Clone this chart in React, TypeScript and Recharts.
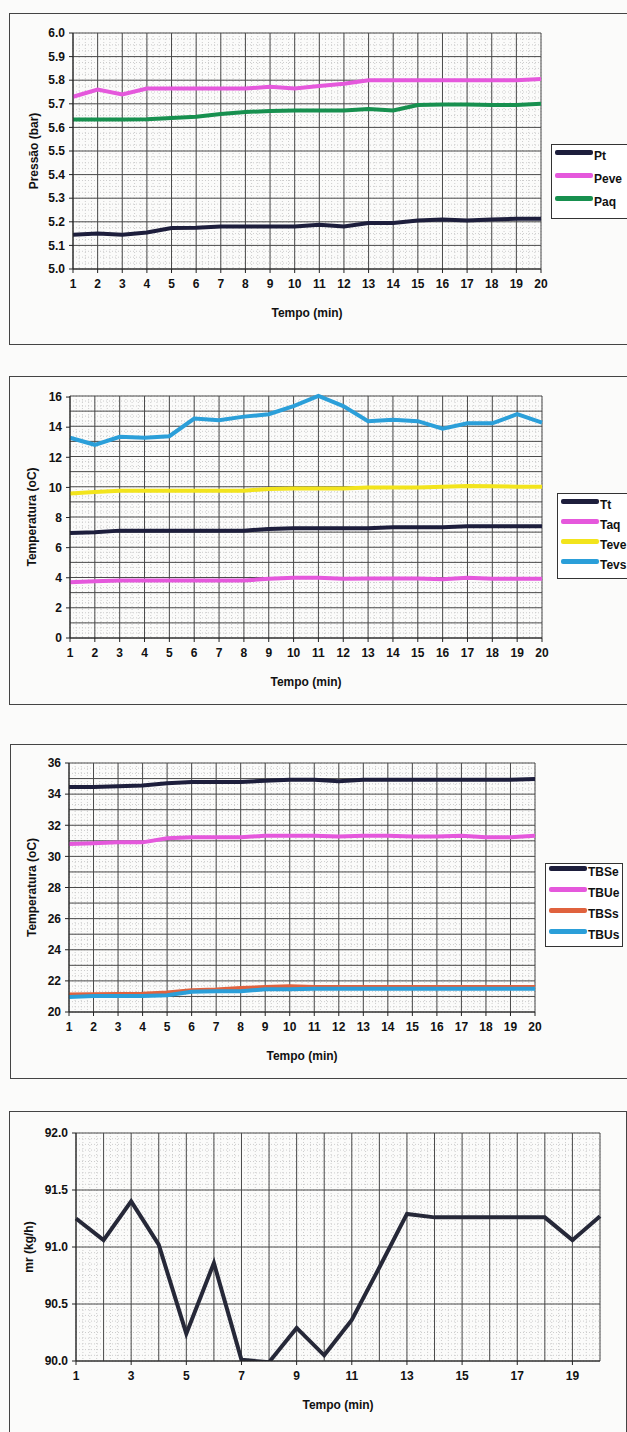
import React from "react"
import { LineChart, Line, XAxis, YAxis, CartesianGrid } from "recharts"

const minutes = [1, 2, 3, 4, 5, 6, 7, 8, 9, 10, 11, 12, 13, 14, 15, 16, 17, 18, 19, 20]

// chart 1 - pressures (bar)
const pt = [5.145, 5.15, 5.145, 5.155, 5.174, 5.175, 5.18, 5.18, 5.18, 5.18, 5.188, 5.18, 5.195, 5.195, 5.205, 5.21, 5.205, 5.21, 5.213, 5.213]
const peve = [5.73, 5.76, 5.74, 5.765, 5.765, 5.765, 5.765, 5.765, 5.772, 5.765, 5.775, 5.785, 5.8, 5.8, 5.8, 5.8, 5.8, 5.8, 5.8, 5.805]
const paq = [5.633, 5.633, 5.633, 5.635, 5.64, 5.645, 5.657, 5.665, 5.67, 5.672, 5.672, 5.672, 5.678, 5.672, 5.695, 5.697, 5.697, 5.695, 5.695, 5.7]
const pressureTicks = [5.0, 5.1, 5.2, 5.3, 5.4, 5.5, 5.6, 5.7, 5.8, 5.9, 6.0]

// chart 2 - refrigerant temperatures (oC)
const tt = [6.98, 7.02, 7.13, 7.13, 7.13, 7.13, 7.13, 7.13, 7.24, 7.28, 7.28, 7.28, 7.28, 7.35, 7.35, 7.35, 7.42, 7.42, 7.42, 7.42]
const taq = [3.71, 3.77, 3.82, 3.82, 3.82, 3.82, 3.82, 3.82, 3.93, 4.0, 4.0, 3.93, 3.95, 3.95, 3.95, 3.9, 4.0, 3.93, 3.93, 3.93]
const teve = [9.6, 9.7, 9.78, 9.78, 9.78, 9.78, 9.78, 9.78, 9.9, 9.93, 9.93, 9.93, 10.0, 10.0, 10.0, 10.04, 10.1, 10.08, 10.05, 10.05]
const tevs = [13.3, 12.83, 13.36, 13.3, 13.4, 14.57, 14.46, 14.7, 14.86, 15.4, 16.07, 15.4, 14.4, 14.5, 14.4, 13.9, 14.26, 14.26, 14.86, 14.3]
const tempTicks = [0, 2, 4, 6, 8, 10, 12, 14, 16]

// chart 3 - air temperatures (oC)
const tbse = [34.45, 34.45, 34.5, 34.56, 34.7, 34.78, 34.78, 34.78, 34.86, 34.93, 34.93, 34.82, 34.93, 34.93, 34.93, 34.93, 34.93, 34.93, 34.93, 34.97]
const tbue = [30.8, 30.85, 30.9, 30.9, 31.17, 31.23, 31.23, 31.23, 31.32, 31.32, 31.32, 31.27, 31.32, 31.32, 31.27, 31.27, 31.32, 31.23, 31.23, 31.32]
const tbss = [21.12, 21.14, 21.16, 21.18, 21.25, 21.4, 21.45, 21.55, 21.6, 21.65, 21.6, 21.6, 21.6, 21.6, 21.6, 21.6, 21.6, 21.6, 21.6, 21.6]
const tbus = [20.97, 21.03, 21.03, 21.03, 21.07, 21.3, 21.33, 21.33, 21.46, 21.46, 21.5, 21.5, 21.5, 21.5, 21.5, 21.5, 21.5, 21.5, 21.5, 21.5]
const airTicks = [20, 22, 24, 26, 28, 30, 32, 34, 36]

// chart 4 - refrigerant mass flow (kg/h)
const mr = [91.25, 91.06, 91.4, 91.02, 90.24, 90.86, 90.01, 89.99, 90.29, 90.05, 90.36, 90.82, 91.29, 91.26, 91.26, 91.26, 91.26, 91.26, 91.06, 91.27]
const mrTicks = [90.0, 90.5, 91.0, 91.5, 92.0]
const mrXTicks = [1, 3, 5, 7, 9, 11, 13, 15, 17, 19]

const navy = "#1d1e3c"
const pink = "#e558dc"
const green = "#17904f"
const yellow = "#f2e41c"
const blue = "#2b9fd9"
const orange = "#e0623e"

const font = "'Liberation Sans', Arial, sans-serif"
const tickStyle = { fontFamily: font, fontSize: 12, fontWeight: 700, fill: "#111" }
const labelStyle = { fontFamily: font, fontSize: 12, fontWeight: 700, fill: "#111", textAnchor: "middle" as const }

const steps = (n: number) => Array.from({ length: n + 1 }, (_, i) => i / n)

const rowsFor = (series: Record<string, number[]>) =>
  minutes.map((t, i) => {
    const row: Record<string, number> = { t }
    Object.keys(series).forEach((k) => (row[k] = series[k][i]))
    return row
  })

interface Grid {
  majorRows: number
  minorRows: number
  majorCols: number
  minorCols: number
}

// dotted fine grid under the solid major grid, like the printed original
const Grids = (g: Grid) => [
  <CartesianGrid
    key="minor"
    stroke="#cdcdcd"
    strokeDasharray="1 2"
    horizontalCoordinatesGenerator={({ offset }: any) => steps(g.minorRows).map((f) => offset.top + offset.height * f)}
    verticalCoordinatesGenerator={({ offset }: any) => steps(g.minorCols).map((f) => offset.left + offset.width * f)}
  />,
  <CartesianGrid
    key="major"
    stroke="#4a4a4a"
    horizontalCoordinatesGenerator={({ offset }: any) => steps(g.majorRows).map((f) => offset.top + offset.height * f)}
    verticalCoordinatesGenerator={({ offset }: any) => steps(g.majorCols).map((f) => offset.left + offset.width * f)}
  />,
]

const LegendBox = ({ left, top, width, height, rowTop, rowGap, lineW, items }: any) => (
  <div
    style={{
      position: "absolute",
      left,
      top,
      width,
      height,
      border: "1px solid #333",
      background: "#fff",
      fontFamily: font,
      fontSize: 12,
      fontWeight: 700,
    }}
  >
    {items.map((it: any, i: number) => (
      <div key={it.name} style={{ position: "absolute", left: 3, top: rowTop + i * rowGap, display: "flex", alignItems: "flex-start" }}>
        <div style={{ width: lineW, height: 5, marginTop: 4, background: it.color, borderRadius: 2 }} />
        <span style={{ marginLeft: 1, marginTop: 3, color: "#111", lineHeight: "14px" }}>{it.name}</span>
      </div>
    ))}
  </div>
)

const frame = (left: number, top: number, width: number, height: number): React.CSSProperties => ({
  position: "absolute",
  left,
  top,
  width,
  height,
  border: "1px solid #444",
})

export default function App() {
  const d1 = rowsFor({ Pt: pt, Peve: peve, Paq: paq })
  const d2 = rowsFor({ Tt: tt, Taq: taq, Teve: teve, Tevs: tevs })
  const d3 = rowsFor({ TBSe: tbse, TBUe: tbue, TBSs: tbss, TBUs: tbus })
  const d4 = rowsFor({ mr })

  const xAxisCommon = {
    dataKey: "t",
    type: "number" as const,
    domain: [1, 20],
    stroke: "#222",
    tick: tickStyle,
    tickSize: 4,
    tickMargin: 6,
    height: 50,
  }

  return (
    <div style={{ position: "absolute", left: 0, top: 0, width: 627, height: 1432, overflow: "hidden", background: "#fbfbfa" }}>
      {/* chart 1 */}
      <div style={frame(9, 13, 640, 330)} />
      <div style={{ position: "absolute", left: 0, top: 13 }}>
        <LineChart width={627} height={330} data={d1} margin={{ top: 20, right: 86, bottom: 24, left: 20 }}>
          {Grids({ majorRows: 10, minorRows: 40, majorCols: 19, minorCols: 76 })}
          <XAxis {...xAxisCommon} ticks={minutes} label={{ value: "Tempo (min)", position: "insideBottom", offset: 2, style: labelStyle }} />
          <YAxis
            type="number"
            domain={[5, 6]}
            ticks={pressureTicks}
            tickFormatter={(v: number) => v.toFixed(1)}
            width={53}
            stroke="#222"
            tick={tickStyle}
            tickSize={4}
            tickMargin={4}
            label={{ value: "Pressão (bar)", angle: -90, position: "insideLeft", offset: 14, style: labelStyle }}
          />
          <Line dataKey="Pt" stroke={navy} strokeWidth={4} dot={false} isAnimationActive={false} />
          <Line dataKey="Peve" stroke={pink} strokeWidth={4} dot={false} isAnimationActive={false} />
          <Line dataKey="Paq" stroke={green} strokeWidth={4} dot={false} isAnimationActive={false} />
        </LineChart>
      </div>
      <LegendBox
        left={551}
        top={144}
        width={90}
        height={73}
        rowTop={1}
        rowGap={23}
        lineW={38}
        items={[
          { name: "Pt", color: navy },
          { name: "Peve", color: pink },
          { name: "Paq", color: green },
        ]}
      />

      {/* chart 2 */}
      <div style={frame(9, 376, 640, 327)} />
      <div style={{ position: "absolute", left: 0, top: 376 }}>
        <LineChart width={627} height={327} data={d2} margin={{ top: 20, right: 85, bottom: 15, left: 20 }}>
          {Grids({ majorRows: 16, minorRows: 48, majorCols: 19, minorCols: 76 })}
          <XAxis {...xAxisCommon} ticks={minutes} label={{ value: "Tempo (min)", position: "insideBottom", offset: 2, style: labelStyle }} />
          <YAxis
            type="number"
            domain={[0, 16]}
            ticks={tempTicks}
            width={50}
            stroke="#222"
            tick={tickStyle}
            tickSize={4}
            tickMargin={4}
            label={{ value: "Temperatura (oC)", angle: -90, position: "insideLeft", offset: 12, style: labelStyle }}
          />
          <Line dataKey="Tt" stroke={navy} strokeWidth={4} dot={false} isAnimationActive={false} />
          <Line dataKey="Taq" stroke={pink} strokeWidth={4} dot={false} isAnimationActive={false} />
          <Line dataKey="Teve" stroke={yellow} strokeWidth={4} dot={false} isAnimationActive={false} />
          <Line dataKey="Tevs" stroke={blue} strokeWidth={4} dot={false} isAnimationActive={false} />
        </LineChart>
      </div>
      <LegendBox
        left={557}
        top={493}
        width={84}
        height={84}
        rowTop={1}
        rowGap={20}
        lineW={38}
        items={[
          { name: "Tt", color: navy },
          { name: "Taq", color: pink },
          { name: "Teve", color: yellow },
          { name: "Tevs", color: blue },
        ]}
      />

      {/* chart 3 */}
      <div style={frame(10, 744, 640, 333)} />
      <div style={{ position: "absolute", left: 0, top: 744 }}>
        <LineChart width={627} height={333} data={d3} margin={{ top: 19, right: 92, bottom: 15, left: 20 }}>
          {Grids({ majorRows: 16, minorRows: 48, majorCols: 19, minorCols: 76 })}
          <XAxis {...xAxisCommon} ticks={minutes} label={{ value: "Tempo (min)", position: "insideBottom", offset: 2, style: labelStyle }} />
          <YAxis
            type="number"
            domain={[20, 36]}
            ticks={airTicks}
            width={49}
            stroke="#222"
            tick={tickStyle}
            tickSize={4}
            tickMargin={4}
            label={{ value: "Temperatura (oC)", angle: -90, position: "insideLeft", offset: 12, style: labelStyle }}
          />
          <Line dataKey="TBSe" stroke={navy} strokeWidth={4} dot={false} isAnimationActive={false} />
          <Line dataKey="TBUe" stroke={pink} strokeWidth={4} dot={false} isAnimationActive={false} />
          <Line dataKey="TBSs" stroke={orange} strokeWidth={4} dot={false} isAnimationActive={false} />
          <Line dataKey="TBUs" stroke={blue} strokeWidth={4} dot={false} isAnimationActive={false} />
        </LineChart>
      </div>
      <LegendBox
        left={545}
        top={863}
        width={76}
        height={82}
        rowTop={-2}
        rowGap={21}
        lineW={38}
        items={[
          { name: "TBSe", color: navy },
          { name: "TBUe", color: pink },
          { name: "TBSs", color: orange },
          { name: "TBUs", color: blue },
        ]}
      />

      {/* chart 4 */}
      <div style={frame(9, 1111, 616, 340)} />
      <div style={{ position: "absolute", left: 0, top: 1111 }}>
        <LineChart width={627} height={321} data={d4} margin={{ top: 22, right: 27, bottom: 21, left: 20 }}>
          {Grids({ majorRows: 4, minorRows: 40, majorCols: 19, minorCols: 76 })}
          <XAxis {...xAxisCommon} ticks={mrXTicks} label={{ value: "Tempo (min)", position: "insideBottom", offset: 2, style: labelStyle }} />
          <YAxis
            type="number"
            domain={[90, 92]}
            allowDataOverflow
            ticks={mrTicks}
            tickFormatter={(v: number) => v.toFixed(1)}
            width={56}
            stroke="#222"
            tick={tickStyle}
            tickSize={4}
            tickMargin={4}
            label={{ value: "mr (kg/h)", angle: -90, position: "insideLeft", offset: 9, style: labelStyle }}
          />
          <Line dataKey="mr" stroke="#262838" strokeWidth={4} dot={false} isAnimationActive={false} />
        </LineChart>
      </div>
    </div>
  )
}
